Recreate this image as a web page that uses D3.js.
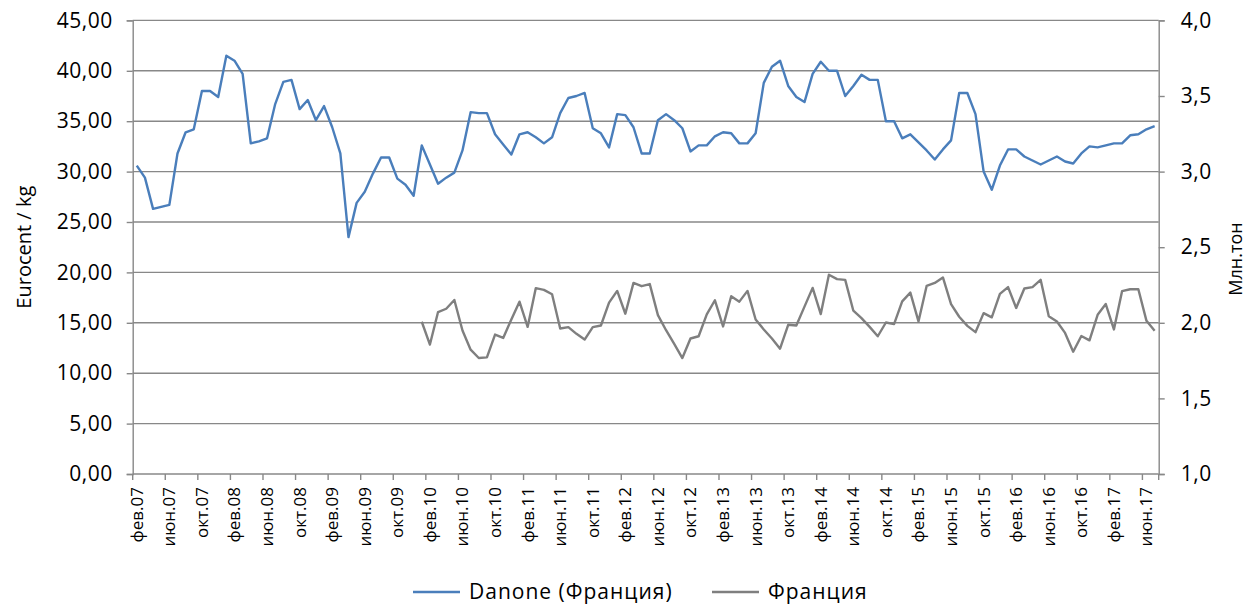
<!DOCTYPE html>
<html>
<head>
<meta charset="utf-8">
<script src="https://cdn.jsdelivr.net/npm/d3@7"></script>
<style>
  html, body { margin: 0; padding: 0; background: #fff; }
  svg text { font-family: "Open Sans", "Noto Sans", sans-serif; fill: #000; }
</style>
</head>
<body>
<svg id="chart" width="1259" height="607"></svg>
<script>
// ---- data ----
const monthNames = ["янв","фев","мар","апр","май","июн","июл","авг","сен","окт","ноя","дек"];
// categories: monthly, фев.07 ... июл.17
const categories = [];
for (let y = 2007; y <= 2017; y++) {
  for (let m = 0; m < 12; m++) {
    if (y === 2007 && m < 1) continue;
    if (y === 2017 && m > 6) continue;
    categories.push(monthNames[m] + "." + String(y).slice(2));
  }
}
const danone = [
  30.6, 29.4, 26.3, 26.5, 26.7, 31.8, 33.9, 34.2, 38.0, 38.0,
  37.4, 41.5, 41.0, 39.7, 32.8, 33.0, 33.3, 36.7, 38.9, 39.1,
  36.2, 37.1, 35.1, 36.5, 34.4, 31.8, 23.5, 26.9, 28.0, 29.8,
  31.4, 31.4, 29.3, 28.7, 27.6, 32.6, 30.7, 28.8, 29.4, 29.9,
  32.1, 35.9, 35.8, 35.8, 33.7, 32.7, 31.7, 33.7, 33.9, 33.4,
  32.8, 33.4, 35.8, 37.3, 37.5, 37.8, 34.3, 33.8, 32.4, 35.7,
  35.6, 34.4, 31.8, 31.8, 35.1, 35.7, 35.1, 34.3, 32.0, 32.6,
  32.6, 33.5, 33.9, 33.8, 32.8, 32.8, 33.8, 38.8, 40.4, 41.0,
  38.5, 37.4, 36.9, 39.7, 40.9, 40.0, 40.0, 37.5, 38.5, 39.6,
  39.1, 39.1, 35.0, 35.0, 33.3, 33.7, 32.9, 32.1, 31.2, 32.2,
  33.1, 37.8, 37.8, 35.7, 30.0, 28.2, 30.6, 32.2, 32.2, 31.5,
  31.1, 30.7, 31.1, 31.5, 31.0, 30.8, 31.8, 32.5, 32.4, 32.6,
  32.8, 32.8, 33.6, 33.7, 34.2, 34.5
];
// France (million tonnes), starts at янв.10
const franceStart = "янв.10";
const franceValues = [
  2.007, 1.856, 2.071, 2.093, 2.151,
  1.949, 1.822, 1.767, 1.771, 1.922, 1.900, 2.022, 2.140, 1.973, 2.229,
  2.218, 2.189, 1.962, 1.971, 1.927, 1.889, 1.971, 1.982, 2.133, 2.211,
  2.060, 2.264, 2.242, 2.256, 2.051, 1.951, 1.860, 1.767, 1.896, 1.911,
  2.056, 2.149, 1.976, 2.176, 2.140, 2.211, 2.022, 1.956, 1.896, 1.829,
  1.987, 1.982, 2.107, 2.231, 2.058, 2.318, 2.289, 2.284, 2.080, 2.031,
  1.973, 1.911, 2.002, 1.991, 2.142, 2.200, 2.009, 2.244, 2.264, 2.300,
  2.124, 2.040, 1.980, 1.938, 2.064, 2.036, 2.191, 2.236, 2.098, 2.227,
  2.236, 2.284, 2.044, 2.009, 1.933, 1.809, 1.913, 1.884, 2.053, 2.124,
  1.956, 2.209, 2.222, 2.222, 2.013, 1.947
];
const leftTicks = [0, 5, 10, 15, 20, 25, 30, 35, 40, 45];
const rightTicks = [1.0, 1.5, 2.0, 2.5, 3.0, 3.5, 4.0];
const seriesNames = ["Danone (Франция)", "Франция"];
const leftTitle = "Eurocent / kg";
const rightTitle = "Млн.тон";

// ---- layout ----
const plot = { left: 132.7, right: 1158.7, top: 20.4, bottom: 474 };
const colors = { danone: "#4a7ebb", france: "#7f7f7f", grid: "#888888" };

const svg = d3.select("#chart");
const x = d3.scaleBand().domain(categories).range([plot.left, plot.right]).padding(0);
const yL = d3.scaleLinear().domain([0, 45]).range([plot.bottom, plot.top]);
const yR = d3.scaleLinear().domain([1, 4]).range([plot.bottom, plot.top]);
const cx = c => x(c) + x.bandwidth() / 2;

const fmt2 = v => d3.format(".2f")(v).replace(".", ",");
const fmt1 = v => d3.format(".1f")(v).replace(".", ",");

// gridlines
svg.append("g").selectAll("line").data(leftTicks.filter(d => d > 0)).join("line")
  .attr("x1", plot.left).attr("x2", plot.right)
  .attr("y1", d => yL(d)).attr("y2", d => yL(d))
  .attr("stroke", colors.grid).attr("stroke-width", 1.4);

// left axis
const gL = svg.append("g").attr("transform", `translate(${plot.left},0)`)
  .call(d3.axisLeft(yL).tickValues(leftTicks).tickFormat(fmt2).tickSize(6).tickPadding(14));
gL.selectAll("text").attr("font-size", 21).attr("letter-spacing", 0.5);

// right axis
const gR = svg.append("g").attr("transform", `translate(${plot.right},0)`)
  .call(d3.axisRight(yR).tickValues(rightTicks).tickFormat(fmt1).tickSize(6).tickPadding(16));
gR.selectAll("text").attr("font-size", 21).attr("letter-spacing", 0.5);

// bottom axis (labels at category centres, every 4th)
const labelCats = categories.filter((d, i) => i % 4 === 0);
const gB = svg.append("g").attr("transform", `translate(0,${plot.bottom})`)
  .call(d3.axisBottom(x).tickValues(labelCats).tickSize(0).tickPadding(0));
gB.select(".domain").remove();
gB.selectAll("text")
  .attr("font-size", 17)
  .attr("transform", "rotate(-90)")
  .attr("text-anchor", "end")
  .attr("x", -13).attr("y", 0).attr("dy", "0.35em");
// bottom tick marks at category boundaries
const tickPos = labelCats.map(c => x(c)).concat([plot.right]);
svg.append("g").selectAll("line").data(tickPos).join("line")
  .attr("x1", d => d).attr("x2", d => d)
  .attr("y1", plot.bottom).attr("y2", plot.bottom + 6)
  .attr("stroke", colors.grid).attr("stroke-width", 1.4);
svg.append("line")
  .attr("x1", plot.left).attr("x2", plot.right)
  .attr("y1", plot.bottom).attr("y2", plot.bottom)
  .attr("stroke", colors.grid).attr("stroke-width", 1.4);

[gL, gR].forEach(g => {
  g.selectAll(".domain").attr("stroke", colors.grid).attr("stroke-width", 1.4);
  g.selectAll(".tick line").attr("stroke", colors.grid).attr("stroke-width", 1.4);
});

// lines
const lineL = d3.line().x((d, i) => cx(categories[i])).y(d => yL(d));
svg.append("path").datum(danone)
  .attr("fill", "none").attr("stroke", colors.danone).attr("stroke-width", 2.4)
  .attr("stroke-linejoin", "round").attr("d", lineL);

const fStart = categories.indexOf(franceStart);
const franceData = franceValues.map((v, k) => ({ c: categories[fStart + k], v }));
const lineR = d3.line().x(d => cx(d.c)).y(d => yR(d.v));
svg.append("path").datum(franceData)
  .attr("fill", "none").attr("stroke", colors.france).attr("stroke-width", 2.4)
  .attr("stroke-linejoin", "round").attr("d", lineR);

// axis titles
svg.append("text")
  .attr("transform", `translate(31,${(plot.top + plot.bottom) / 2}) rotate(-90)`)
  .attr("text-anchor", "middle").attr("font-size", 20).text(leftTitle);
svg.append("text")
  .attr("transform", `translate(1242,259) rotate(-90)`)
  .attr("text-anchor", "middle").attr("font-size", 18).text(rightTitle);

// legend
const legend = [
  { name: seriesNames[0], color: colors.danone, x: 413 },
  { name: seriesNames[1], color: colors.france, x: 712 }
];
const lg = svg.append("g").selectAll("g").data(legend).join("g")
  .attr("transform", d => `translate(${d.x},592)`);
lg.append("line").attr("x1", 0).attr("x2", 47).attr("y1", 0).attr("y2", 0)
  .attr("stroke", d => d.color).attr("stroke-width", 2.4);
lg.append("text").attr("x", 56).attr("dy", "0.35em").attr("font-size", 21)
  .attr("letter-spacing", 1).text(d => d.name);
</script>
</body>
</html>
